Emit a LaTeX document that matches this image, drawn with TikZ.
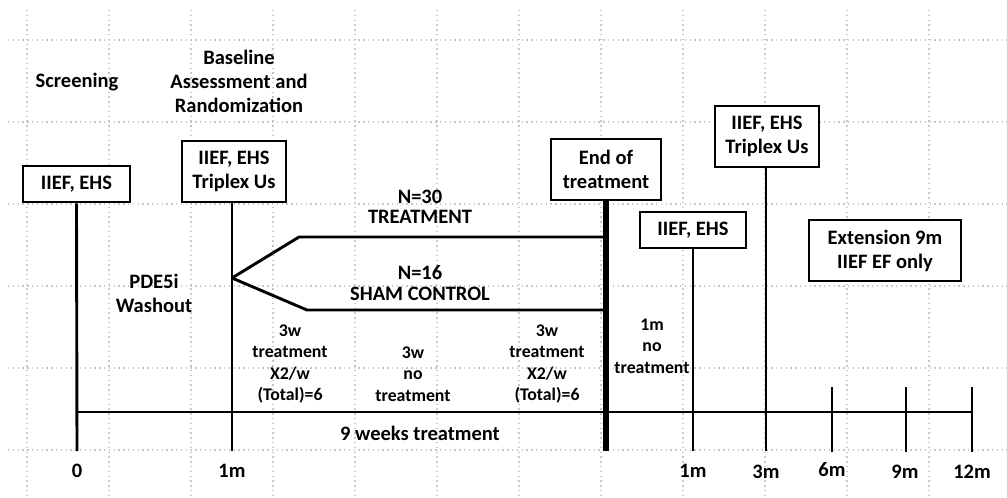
\documentclass[tikz,border=0pt]{standalone}
\usepackage{fontspec}
\setmainfont{Carlito}
\usetikzlibrary{positioning}
\tikzset{
    every node/.style={font=\bfseries\fontsize{20.5}{24}\selectfont, align=center, inner sep=0pt},
    visit/.style={draw, line width=2.6pt, fill=white}, % boxes with the assessments
    period/.style={font=\bfseries\fontsize{17.8}{21.3}\selectfont}, % texts under the arms
    gridline/.style={gray!45, line width=1.3pt, dash pattern=on 1.3pt off 3.5pt},
    tline/.style={line width=2.9pt},
}
\begin{document}
\begin{tikzpicture}[x=1pt,y=-1pt]
  \useasboundingbox (0,0) rectangle (1007,498);
  % dotted grid
  \foreach \gx in {27,109,191,273,355,437,519,601,683,765,847,929}
    \draw[gridline] (\gx,10) -- (\gx,498);
  \foreach \gy in {40,122,204,286,368,450}
    \draw[gridline] (8,\gy) -- (1007,\gy);

  % points on the time axis
  \coordinate (t_0) at (77,412);
  \coordinate (t_12) at (972,412);
  \coordinate (b_0) at (77,451);
  \coordinate (b_1) at (232,451);
  \coordinate (b_end) at (606,451);
  \coordinate (b_f1) at (693,451);
  \coordinate (b_f3) at (766,451);

  \node[visit, minimum width=107pt, minimum height=36pt] (v_0) at (76.5,184) {IIEF, EHS};
  \node[visit, minimum width=104pt, minimum height=61pt] (v_1) at (234,171.5) {IIEF, EHS\\Triplex Us};
  \node[visit, minimum width=110pt, minimum height=61pt] (v_end) at (606,169.5) {End of\\treatment};
  \node[visit, minimum width=106pt, minimum height=36pt] (v_f1) at (693,230) {IIEF, EHS};
  \node[visit, minimum width=104pt, minimum height=61pt] (v_f3) at (767,136.5) {IIEF, EHS\\Triplex Us};
  \node[visit, minimum width=152pt, minimum height=61pt] (v_ext) at (885,250.5) {Extension 9m\\IIEF EF only};

  \node (scr) at (77,82) {Screening};
  \node (rand) at (239,81) {Baseline\\Assessment and\\Randomization};
  \node (wash) at (154,293.5) {PDE5i\\Washout};

  \draw[tline] (v_0.south) -- (b_0);
  \draw[tline] (v_1.south -| b_1) -- (b_1);
  \draw[line width=5.5pt] (v_end.south) -- (b_end);
  \draw[tline] (v_f1.south -| b_f1) -- (b_f1);
  \draw[tline] (v_f3.south -| b_f3) -- (b_f3);
  \draw[tline] (t_0) -- (t_12);
  \foreach \tx in {832,906,972}
    \draw[tline] (\tx,387) -- (\tx,452);

  % the two arms
  \coordinate (split) at (232,278);
  \coordinate (arm_t) at (299,237);
  \coordinate (arm_s) at (307,310);
  \draw[tline] (split) -- (arm_t) -- (arm_t -| b_end);
  \draw[tline] (split) -- (arm_s) -- (arm_s -| b_end);
  \node[font=\bfseries\fontsize{20.5}{20.5}\selectfont] (arm_t_lbl) at (420,207) {N=30\\TREATMENT};
  \node[font=\bfseries\fontsize{20.5}{20.5}\selectfont] (arm_s_lbl) at (420,283) {N=16\\SHAM CONTROL};

  \node[period] (p_1) at (290,364) {3w\\treatment\\X2/w\\(Total)=6};
  \node[period] (p_2) at (413,374) {3w\\no\\treatment};
  \node[period] (p_3) at (547,364) {3w\\treatment\\X2/w\\(Total)=6};
  \node[period] (p_4) at (652,346) {1m\\no\\treatment};
  \node (weeks) at (420,433) {9 weeks treatment};

  % month labels
  \node (m_0) at (77,471) {0};
  \node (m_1) at (232,471) {1m};
  \node (m_f1) at (693,471) {1m};
  \node (m_f3) at (766,472) {3m};
  \node (m_f6) at (832,470) {6m};
  \node (m_f9) at (905,472) {9m};
  \node (m_f12) at (972,472) {12m};
\end{tikzpicture}
\end{document}
